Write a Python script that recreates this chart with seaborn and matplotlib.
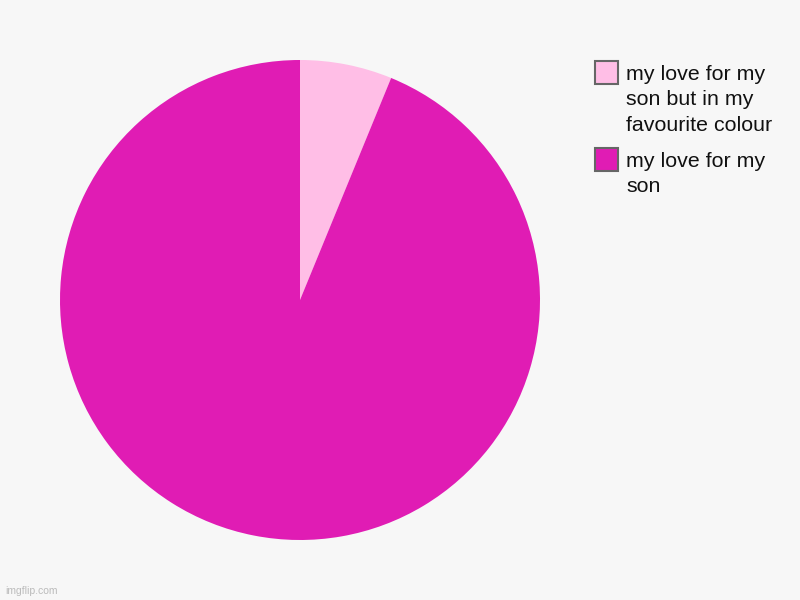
import matplotlib
matplotlib.use("Agg")
import matplotlib.pyplot as plt
from matplotlib.patches import Rectangle
import seaborn as sns

labels = ["my love for my son but in my favourite colour", "my love for my son"]
legend_text = ["my love for my\nson but in my\nfavourite colour", "my love for my\nson"]
values = [6.2, 93.8]
colors = ["#FFBEE6", "#E01CB4"]

sns.set_style("white")
plt.rcParams['font.family'] = ['Liberation Sans', 'DejaVu Sans']

fig = plt.figure(figsize=(8, 6), dpi=100)
fig.patch.set_facecolor("#F7F7F7")

ax = fig.add_axes([60 / 800, 60 / 600, 480 / 800, 480 / 600])
ax.pie(values, colors=colors, startangle=90, counterclock=False,
       wedgeprops=dict(linewidth=0))
ax.set_xlim(-1, 1)
ax.set_ylim(-1, 1)
ax.set_aspect("equal")
ax.axis("off")

# legend drawn by hand so the swatch lines up with the first text line
tops = [61, 148]
for top, txt, col in zip(tops, legend_text, colors):
    fig.patches.append(Rectangle((595 / 800, 1 - (top + 23) / 600), 23 / 800, 23 / 600,
                                 transform=fig.transFigure, facecolor=col,
                                 edgecolor="#666666", linewidth=1.5))
    fig.text(626 / 800, 1 - (top + 4) / 600, txt, fontsize=15.4, va="top", ha="left",
             color="#111111", linespacing=1.42)

fig.text(5 / 800, 1 - 591 / 600, "imgflip.com", fontsize=7.5, color="#BBBBBB",
         va="center", ha="left")

fig.savefig("out.png", dpi=100, facecolor=fig.get_facecolor())
